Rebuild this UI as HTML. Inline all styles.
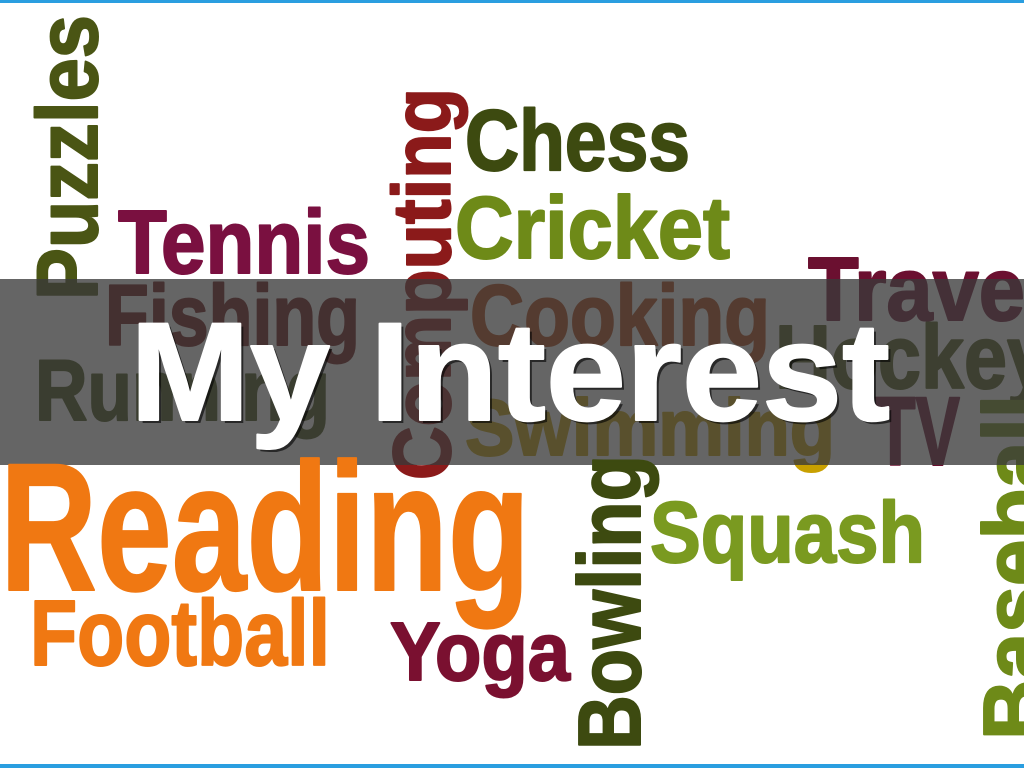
<!DOCTYPE html>
<html><head><meta charset="utf-8">
<style>
html,body{margin:0;padding:0;width:1024px;height:768px;overflow:hidden;background:#fff;}
svg text{font-family:"Liberation Sans Narrow","Liberation Sans",sans-serif;font-weight:bold;stroke-width:2;stroke-linejoin:round;}
</style></head>
<body>
<svg width="1024" height="768" viewBox="0 0 1024 768">
<rect x="0" y="0" width="1024" height="768" fill="#fff"/>
<rect x="0" y="0" width="1024" height="3" fill="#2a9ee0"/>
<rect x="0" y="764" width="1024" height="4" fill="#2a9ee0"/>

<text transform="translate(97,300) rotate(-90)" font-size="86" fill="#4a5514" stroke="#4a5514" textLength="285" lengthAdjust="spacingAndGlyphs">Puzzles</text>
<text x="465" y="170" font-size="86" fill="#3d4a10" stroke="#3d4a10" textLength="225" lengthAdjust="spacingAndGlyphs">Chess</text>
<text x="455" y="258" font-size="88" fill="#6e8a18" stroke="#6e8a18" textLength="275" lengthAdjust="spacingAndGlyphs">Cricket</text>
<text x="118" y="273" font-size="90" fill="#7a1040" stroke="#7a1040" textLength="252" lengthAdjust="spacingAndGlyphs">Tennis</text>
<text transform="translate(450,480) rotate(-90)" font-size="82" fill="#8b1a1a" stroke="#8b1a1a" textLength="392" lengthAdjust="spacingAndGlyphs">Computing</text>
<text x="808" y="320" font-size="90" fill="#6b1030" stroke="#6b1030" textLength="240" lengthAdjust="spacingAndGlyphs">Travel</text>
<text x="105" y="345" font-size="86" fill="#6a1010" stroke="#6a1010" textLength="255" lengthAdjust="spacingAndGlyphs">Fishing</text>
<text x="470" y="345" font-size="86" fill="#b04010" stroke="#b04010" textLength="300" lengthAdjust="spacingAndGlyphs">Cooking</text>
<text x="775" y="388" font-size="90" fill="#4a5514" stroke="#4a5514" textLength="275" lengthAdjust="spacingAndGlyphs">Hockey</text>
<text x="35" y="420" font-size="86" fill="#3d4a10" stroke="#3d4a10" textLength="295" lengthAdjust="spacingAndGlyphs">Running</text>
<text x="465" y="455" font-size="80" fill="#c8a000" stroke="#c8a000" textLength="370" lengthAdjust="spacingAndGlyphs">Swimming</text>
<text x="875" y="465" font-size="97" fill="#6b1030" stroke="#6b1030" textLength="85" lengthAdjust="spacingAndGlyphs">TV</text>
<text transform="translate(1045,740) rotate(-90)" font-size="88" fill="#6e8a18" stroke="#6e8a18" textLength="345" lengthAdjust="spacingAndGlyphs">Baseball</text>

<rect x="0" y="279" width="1024" height="186" fill="#3a3a3a" fill-opacity="0.78"/>
<text x="133" y="423" font-size="140" fill="#000" fill-opacity="0.6" textLength="760" lengthAdjust="spacingAndGlyphs">My Interest</text>
<text x="130" y="420" font-size="140" fill="#fff" stroke="#fff" stroke-width="3" textLength="760" lengthAdjust="spacingAndGlyphs">My Interest</text>

<text x="0" y="590" font-size="182" fill="#f07812" stroke="#f07812" textLength="530" lengthAdjust="spacingAndGlyphs">Reading</text>
<text transform="translate(640,750) rotate(-90)" font-size="88" fill="#3d4a10" stroke="#3d4a10" textLength="295" lengthAdjust="spacingAndGlyphs">Bowling</text>
<text x="650" y="562" font-size="86" fill="#7a9a20" stroke="#7a9a20" textLength="275" lengthAdjust="spacingAndGlyphs">Squash</text>
<text x="30" y="665" font-size="93" fill="#f07812" stroke="#f07812" textLength="300" lengthAdjust="spacingAndGlyphs">Football</text>
<text x="390" y="680" font-size="83" fill="#7a1030" stroke="#7a1030" textLength="180" lengthAdjust="spacingAndGlyphs">Yoga</text>
</svg>
</body></html>
